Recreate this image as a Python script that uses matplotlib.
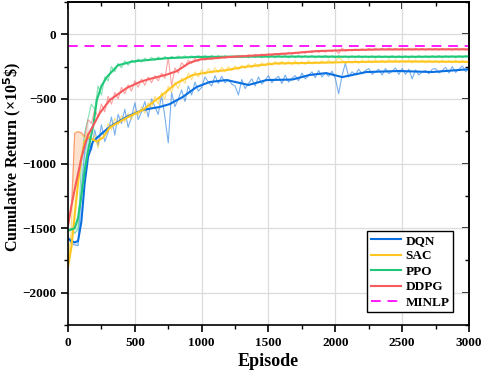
import numpy as np
import matplotlib
matplotlib.use("Agg")
import matplotlib.pyplot as plt

# raw returns, sampled every 25 episodes (0 .. 3000)
episodes = np.arange(0, 3001, 25)

dqn_raw = [
    -1560, -1620, -1630, -1635, -1200, -905, -780, -900, -740, -860,
    -700, -830, -760, -640, -780, -620, -690, -580, -720, -640,
    -530, -660, -600, -520, -640, -500, -560, -620, -470, -640,
    -840, -450, -560, -500, -430, -520, -400, -470, -370, -440,
    -410, -330, -370, -400, -320, -380, -325, -375, -350, -385,
    -400, -470, -350, -420, -380, -345, -400, -330, -385, -355,
    -320, -375, -345, -325, -380, -315, -370, -340, -320, -360,
    -300, -345, -320, -290, -335, -280, -330, -300, -325, -285,
    -340, -460, -320, -225, -330, -290, -310, -270, -305, -280,
    -265, -310, -290, -270, -315, -265, -305, -285, -260, -310,
    -265, -310, -270, -345, -275, -315, -290, -280, -305, -270,
    -265, -300, -280, -255, -300, -250, -295, -270, -245, -290,
    -262,
]
sac_raw = [
    -1800, -1500, -760, -750, -770, -800, -760, -860, -780, -880,
    -760, -790, -690, -740, -650, -700, -630, -680, -610, -660,
    -590, -630, -560, -610, -530, -570, -480, -540, -450, -500,
    -400, -450, -370, -420, -340, -380, -300, -350, -290, -330,
    -275, -310, -265, -300, -260, -295, -255, -290, -250, -280,
    -245, -275, -240, -265, -230, -260, -225, -255, -220, -245,
    -215, -240, -210, -238, -208, -235, -210, -235, -205, -232,
    -212, -232, -205, -230, -210, -228, -205, -225, -200, -225,
    -210, -180, -200, -225, -205, -222, -202, -225, -200, -220,
    -200, -220, -198, -218, -200, -220, -196, -218, -198, -220,
    -202, -220, -198, -222, -200, -218, -199, -221, -200, -219,
    -203, -222, -200, -220, -202, -221, -199, -222, -201, -220,
    -212,
]
ppo_raw = [
    -1520, -1500, -1540, -1510, -1000, -760, -650, -540, -580, -400,
    -470, -330, -360, -250, -290, -225, -260, -205, -240, -200,
    -220, -190, -215, -185, -205, -178, -200, -175, -195, -172,
    -188, -170, -185, -168, -182, -167, -182, -166, -180, -165,
    -182, -164, -184, -163, -181, -165, -183, -164, -180, -166,
    -182, -163, -181, -165, -183, -162, -180, -166, -182, -163,
    -181, -165, -182, -163, -180, -166, -183, -164, -181, -163,
    -182, -165, -180, -163, -183, -166, -181, -162, -182, -165,
    -183, -165, -181, -167, -184, -166, -182, -164, -183, -167,
    -182, -166, -184, -165, -181, -167, -183, -165, -182, -166,
    -181, -165, -183, -166, -182, -164, -181, -166, -182, -165,
    -181, -164, -182, -165, -180, -166, -182, -165, -181, -164,
    -172,
]
ddpg_raw = [
    -1480, -1350, -770, -755, -760, -790, -660, -690, -580, -640,
    -540, -600, -480, -540, -450, -500, -410, -460, -390, -440,
    -360, -410, -345, -395, -330, -375, -320, -360, -300, -340,
    -180, -400, -260, -300, -220, -250, -200, -225, -185, -210,
    -185, -200, -178, -195, -172, -190, -168, -186, -166, -182,
    -164, -180, -162, -176, -158, -172, -155, -170, -152, -166,
    -150, -164, -148, -160, -145, -158, -140, -154, -138, -150,
    -134, -146, -132, -142, -128, -140, -126, -138, -124, -134,
    -120, -150, -105, -132, -116, -128, -114, -126, -112, -124,
    -110, -122, -110, -120, -108, -121, -107, -122, -109, -120,
    -108, -121, -110, -122, -109, -120, -108, -123, -110, -121,
    -109, -122, -108, -120, -110, -123, -109, -121, -110, -122,
    -117,
]

# smoothed curves (first 7 knots share the raw grid 0..150)
dqn_ep = [0, 25, 50, 75, 100, 125, 150, 186, 250, 313, 440, 560, 687, 761, 858,
          962, 1060, 1186, 1300, 1350, 1485, 1679, 1806, 1932, 2052, 2231, 2477,
          2723, 3000]
dqn_smooth = [-1580, -1600, -1610, -1600, -1450, -1150, -950, -830, -770, -715,
              -638, -585, -562, -540, -485, -408, -369, -354, -380, -392, -354,
              -350, -315, -300, -331, -292, -284, -292, -270]
sac_ep = [0, 25, 50, 75, 100, 125, 150, 216, 261, 313, 440, 560, 687, 813, 933,
          1060, 1186, 1306, 1559, 1783, 2104, 2500, 3000]
sac_smooth = [-1800, -1650, -1400, -1150, -950, -830, -795, -830, -800, -720,
              -645, -585, -485, -377, -315, -292, -277, -254, -225, -222, -215,
              -210, -213]
ppo_ep = [0, 25, 50, 75, 100, 125, 150, 190, 216, 250, 291, 373, 485, 738, 962,
          1500, 2000, 2500, 3000]
ppo_smooth = [-1520, -1510, -1500, -1420, -1250, -1050, -900, -700, -508, -400,
              -330, -240, -210, -185, -175, -172, -173, -174, -172]
ddpg_ep = [0, 25, 50, 75, 100, 125, 150, 239, 313, 440, 537, 612, 738, 813, 910,
           985, 1186, 1432, 1679, 1858, 2100, 2350, 3000]
ddpg_smooth = [-1480, -1330, -1200, -1080, -960, -860, -780, -608, -508, -415,
               -369, -345, -312, -285, -220, -195, -177, -162, -146, -130, -122,
               -117, -116]

minlp_value = -88

series = [
    ("DQN", dqn_raw, dqn_ep, dqn_smooth, "#0a6fe0"),
    ("SAC", sac_raw, sac_ep, sac_smooth, "#ffc61f"),
    ("PPO", ppo_raw, ppo_ep, ppo_smooth, "#1fc878"),
    ("DDPG", ddpg_raw, ddpg_ep, ddpg_smooth, "#f85a5c"),
]

plt.rcParams["font.family"] = "Liberation Serif"
plt.rcParams["font.weight"] = "bold"

fig = plt.figure(figsize=(4.84, 3.78), dpi=100)
ax = fig.add_axes([0.1405, 0.140, 0.8285, 0.8547])

for name, raw, ep, smooth, color in series:
    ax.plot(episodes, raw, color=color, lw=0.8, alpha=0.55)
    ax.fill_between(episodes[:7], raw[:7], smooth[:7], color=color, alpha=0.13, lw=0)

for name, raw, ep, smooth, color in series:
    ax.plot(ep, smooth, color=color, lw=1.5, label=name)

ax.axhline(minlp_value, color="#ff1aff", lw=1.4, ls=(0, (5, 3.5)), label="MINLP")

ax.set_xlim(0, 3000)
ax.set_ylim(-2250, 250)
ax.set_xticks(np.arange(0, 3001, 500))
ax.set_yticks(np.arange(-2000, 1, 500))
ax.set_xticks(np.arange(0, 3001, 250), minor=True)
ax.set_yticks(np.arange(-2250, 251, 250), minor=True)
ax.grid(True, which="major", color="#dcdcdc", lw=0.9)
ax.set_axisbelow(True)

ax.tick_params(which="major", direction="out", length=5, width=1.2, labelsize=9.5)
ax.tick_params(which="minor", direction="out", length=3, width=1.0)
for lbl in ax.get_xticklabels() + ax.get_yticklabels():
    lbl.set_fontweight("bold")

# inward mirror ticks on top and right
top = ax.secondary_xaxis("top")
top.set_xticks(np.arange(0, 3001, 500))
top.set_xticks(np.arange(0, 3001, 250), minor=True)
top.tick_params(which="major", direction="in", length=5, width=1.2, labeltop=False)
top.tick_params(which="minor", direction="in", length=3, width=1.0)
right = ax.secondary_yaxis("right")
right.set_yticks(np.arange(-2000, 1, 500))
right.set_yticks(np.arange(-2250, 251, 250), minor=True)
right.tick_params(which="major", direction="in", length=5, width=1.2, labelright=False)
right.tick_params(which="minor", direction="in", length=3, width=1.0)

for sp in ax.spines.values():
    sp.set_linewidth(1.2)
top.spines["top"].set_linewidth(1.2)
right.spines["right"].set_linewidth(1.2)

ax.set_xlabel("Episode", fontsize=13, fontweight="bold", labelpad=3)
ax.set_ylabel("Cumulative Return (×10$^5$\\$)", fontsize=11.5, fontweight="bold")
ax.yaxis.set_label_coords(-0.112, 0.52)

leg = ax.legend(loc="lower right", bbox_to_anchor=(0.96, 0.04),
                prop={"weight": "bold", "size": 9.5}, frameon=True, fancybox=False,
                edgecolor="black", framealpha=1, handlelength=2.3,
                labelspacing=0.25, borderpad=0.25, borderaxespad=0,
                handletextpad=0.35)
leg.get_frame().set_linewidth(1.0)

fig.savefig("out.png", dpi=100)
